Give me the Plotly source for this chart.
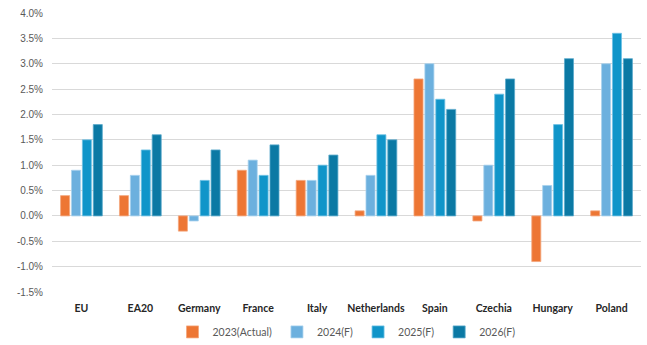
import plotly.graph_objects as go

# Country / aggregate groups along the x axis
categories = ["EU", "EA20", "Germany", "France", "Italy",
              "Netherlands", "Spain", "Czechia", "Hungary", "Poland"]

# Real GDP growth, % (2023 actual, 2024-2026 forecasts)
growth_2023 = [0.4, 0.4, -0.3, 0.9, 0.7, 0.1, 2.7, -0.1, -0.9, 0.1]
growth_2024 = [0.9, 0.8, -0.1, 1.1, 0.7, 0.8, 3.0, 1.0, 0.6, 3.0]
growth_2025 = [1.5, 1.3, 0.7, 0.8, 1.0, 1.6, 2.3, 2.4, 1.8, 3.6]
growth_2026 = [1.8, 1.6, 1.3, 1.4, 1.2, 1.5, 2.1, 2.7, 3.1, 3.1]

series_names = ["2023(Actual)", "2024(F)", "2025(F)", "2026(F)"]
series_values = [growth_2023, growth_2024, growth_2025, growth_2026]
series_colors = ["#ED7634", "#6CB0DE", "#1095C9", "#0B79A4"]
edge_colors = ["#F4A77E", "#A8D2EE", "#6FC2E4", "#5BAACB"]

y_ticks = [-1.5, -1.0, -0.5, 0.0, 0.5, 1.0, 1.5, 2.0, 2.5, 3.0, 3.5, 4.0]

fig = go.Figure()
for name, vals, col, edge in zip(series_names, series_values, series_colors, edge_colors):
    fig.add_trace(go.Bar(
        x=categories, y=vals, name=name,
        marker=dict(color=col, line=dict(color=edge, width=0.8)),
    ))

fig.update_layout(
    width=647, height=345,
    margin=dict(l=52, r=6, t=13, b=53, autoexpand=False),
    paper_bgcolor="white", plot_bgcolor="white",
    barmode="group", bargap=0.26, bargroupgap=0.17,
    font=dict(family="Liberation Sans, Arial, sans-serif", color="#595959"),
    legend=dict(
        orientation="h", x=0.5, xanchor="center",
        yref="container", y=0.038, yanchor="middle",
        font=dict(family="Lato, Liberation Sans, sans-serif", size=10.5, color="#595959"),
        itemwidth=30, traceorder="normal",
    ),
    showlegend=True,
)

fig.update_xaxes(
    showgrid=False, showline=False, zeroline=False,
    tickfont=dict(family="Lato, Liberation Sans, sans-serif", size=10.5, color="#262626", weight="bold"),
    ticklabelstandoff=8,
)
fig.update_yaxes(
    range=[-1.5, 4.0], tickvals=y_ticks,
    ticktext=[f"{v:.1f}%" for v in y_ticks],
    showgrid=True, gridcolor="#D9D9D9", gridwidth=1,
    zeroline=True, zerolinecolor="#D9D9D9", zerolinewidth=1,
    tickfont=dict(size=10, color="#595959"),
    ticklabelstandoff=8,
)

fig.write_html("out.html")
